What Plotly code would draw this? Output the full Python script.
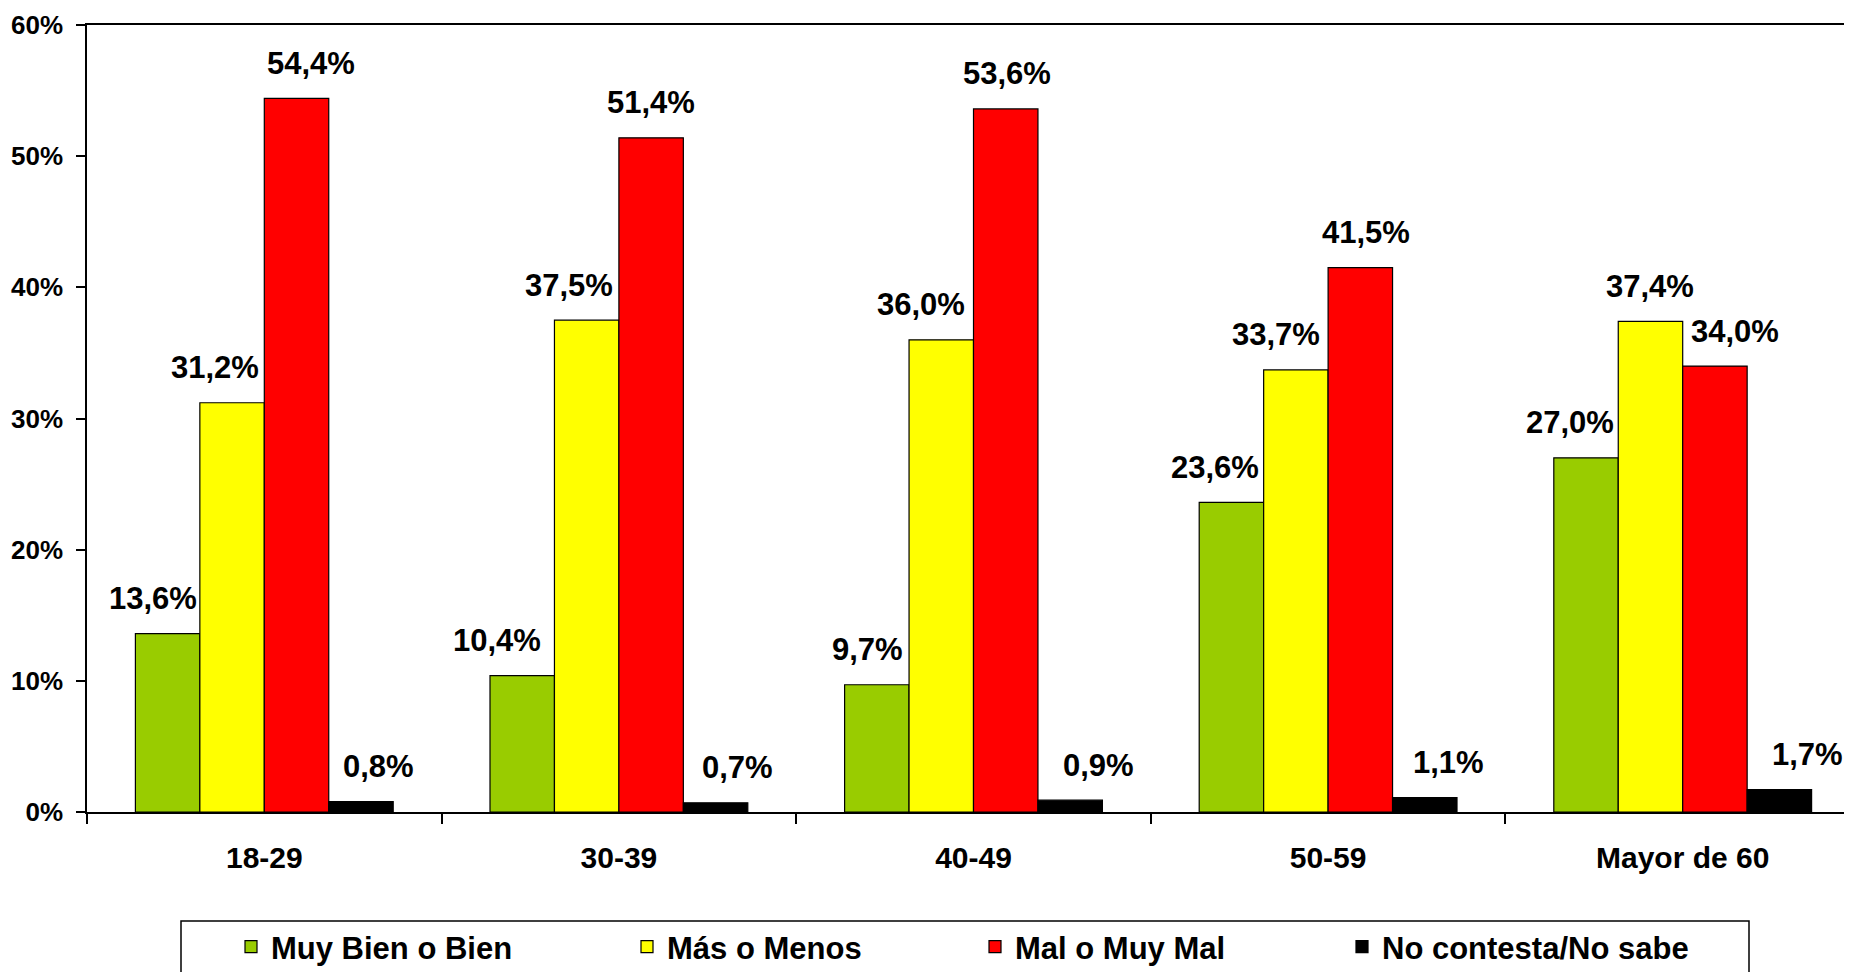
import plotly.graph_objects as go

# ---- data ----
categories = ["18-29", "30-39", "40-49", "50-59", "Mayor de 60"]
series_names = ["Muy Bien o Bien", "Más o Menos", "Mal o Muy Mal", "No contesta/No sabe"]
muy_bien = [13.6, 10.4, 9.7, 23.6, 27.0]
mas_o_menos = [31.2, 37.5, 36.0, 33.7, 37.4]
mal_o_muy_mal = [54.4, 51.4, 53.6, 41.5, 34.0]
no_contesta = [0.8, 0.7, 0.9, 1.1, 1.7]
y_tick_values = [0, 10, 20, 30, 40, 50, 60]
y_tick_labels = ["0%", "10%", "20%", "30%", "40%", "50%", "60%"]

series_values = [muy_bien, mas_o_menos, mal_o_muy_mal, no_contesta]

# ---- style ----
colors = ["#99CC00", "#FFFF00", "#FF0000", "#000000"]
# horizontal nudges of the data labels (px), per series, per category
label_dx = [
    [-14.5, -25.5, -9.5, -16.5, -16],
    [-17, -18, -20, -19.5, 0],
    [14, 0, 1, 6, 20],
    [18, 21.5, 28.5, 23.5, 28.5],
]
legend_widths = [351, 303, 322, 330]
FONT = "Liberation Sans, Arial, sans-serif"
BARGAP = 0.273
N = len(series_values)
bar_w = (1 - BARGAP) / N

W, H = 1852, 972
ML, MR, MT, MB = 79, 0, 17, 168
plot_w = W - ML - MR
plot_h = H - MT - MB
BODY = 8  # page margin around the figure


def fmt(v):
    return f"{v:.1f}".replace(".", ",") + "%"


def page_x(p):
    return (p - BODY - ML) / plot_w


def page_y(p):
    return (H - MB - (p - BODY)) / plot_h


fig = go.Figure()
for k, (name, vals) in enumerate(zip(series_names, series_values)):
    fig.add_trace(go.Bar(
        x=categories, y=vals, name=name,
        marker=dict(color=colors[k], line=dict(color="black", width=1.2)),
        legendwidth=legend_widths[k],
    ))
    for i, v in enumerate(vals):
        fig.add_annotation(
            x=i - (1 - BARGAP) / 2 + (k + 0.5) * bar_w, y=v,
            xref="x", yref="y", text=fmt(v), showarrow=False,
            xanchor="center", yanchor="middle", yshift=35, xshift=label_dx[k][i],
            font=dict(family=FONT, size=31, color="black", weight="bold"),
        )

# legend frame
fig.add_shape(type="rect", xref="paper", yref="paper",
              x0=page_x(181), x1=page_x(1749), y0=page_y(921), y1=page_y(1000),
              line=dict(color="black", width=1.5), fillcolor="rgba(0,0,0,0)")

fig.update_layout(
    width=W, height=H,
    margin=dict(l=ML, r=MR, t=MT, b=MB, pad=0),
    paper_bgcolor="white", plot_bgcolor="white",
    barmode="group", bargap=BARGAP, bargroupgap=0,
    font=dict(family=FONT, color="black"),
    showlegend=True,
    legend=dict(
        orientation="h", x=page_x(231), xanchor="left", y=page_y(947), yanchor="middle",
        font=dict(family=FONT, size=31, color="black", weight="bold"),
        bgcolor="rgba(0,0,0,0)", borderwidth=0, traceorder="normal",
    ),
)
fig.update_xaxes(
    type="category", range=[-0.5, 4.5],
    showline=True, linecolor="black", linewidth=1.5, mirror=True,
    ticks="outside", tickson="boundaries", ticklen=10, tickwidth=1.5, tickcolor="black",
    tickfont=dict(family=FONT, size=30, color="black", weight="bold"),
    ticklabelstandoff=18, showgrid=False, zeroline=False,
)
fig.update_yaxes(
    range=[0, 60], tickvals=y_tick_values, ticktext=y_tick_labels,
    showline=True, linecolor="black", linewidth=1.5,
    ticks="outside", ticklen=9, tickwidth=1.5, tickcolor="black",
    tickfont=dict(family=FONT, size=26, color="black", weight="bold"),
    ticklabelstandoff=8, showgrid=False, zeroline=False,
)

fig.write_html("out.html")
